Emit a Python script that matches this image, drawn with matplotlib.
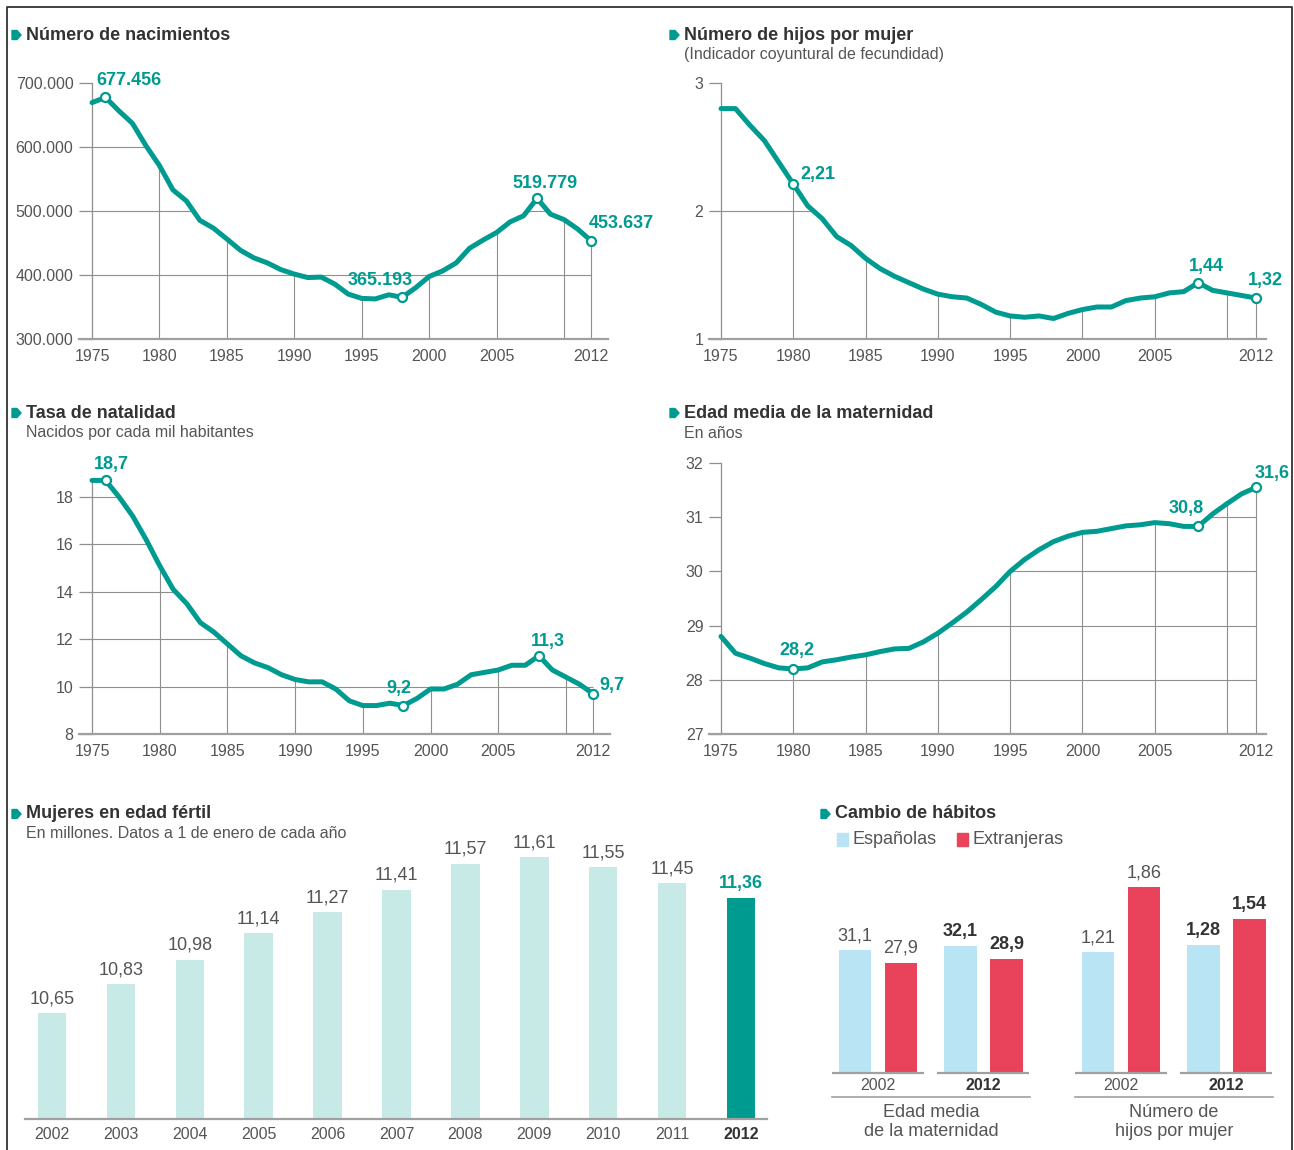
import matplotlib.pyplot as plt
import numpy as np
from matplotlib.path import Path
from matplotlib.patches import Polygon, Rectangle

W, H = 1294, 1150
plt.rcParams['font.family'] = ['Liberation Sans', 'DejaVu Sans']

TEAL = '#009b90'
LIGHT = '#c8eae6'
BLUE = '#b8e4f3'
RED = '#e8435a'
GRID = '#8f8f8f'
AXIS = '#a0a0a0'
TXT = '#555555'
DARK = '#333333'

# ---- data -------------------------------------------------------------
years = np.arange(1975, 2013)

nacimientos = [669378, 677456, 656357, 636892, 601992, 571018, 533008, 515706, 485352, 473281,
               456298, 438750, 426782, 418919, 408434, 401425, 395989, 396747, 385786, 370148,
               363469, 362626, 369035, 365193, 380130, 397632, 406380, 418846, 441881, 454591,
               466371, 482957, 492527, 519779, 494997, 486575, 471999, 453637]
hijos = [2.80, 2.80, 2.67, 2.55, 2.38, 2.21, 2.04, 1.94, 1.80, 1.73,
         1.63, 1.55, 1.49, 1.44, 1.39, 1.35, 1.33, 1.32, 1.27, 1.21,
         1.18, 1.17, 1.18, 1.16, 1.20, 1.23, 1.25, 1.25, 1.30, 1.32,
         1.33, 1.36, 1.37, 1.44, 1.38, 1.36, 1.34, 1.32]
tasa = [18.7, 18.7, 18.0, 17.2, 16.2, 15.1, 14.1, 13.5, 12.7, 12.3,
        11.8, 11.3, 11.0, 10.8, 10.5, 10.3, 10.2, 10.2, 9.9, 9.4,
        9.2, 9.2, 9.3, 9.2, 9.5, 9.9, 9.9, 10.1, 10.5, 10.6,
        10.7, 10.9, 10.9, 11.3, 10.7, 10.4, 10.1, 9.7]
edad = [28.80, 28.49, 28.40, 28.30, 28.22, 28.20, 28.22, 28.33, 28.37, 28.42,
        28.46, 28.52, 28.57, 28.58, 28.70, 28.86, 29.05, 29.25, 29.48, 29.72,
        30.00, 30.22, 30.40, 30.55, 30.65, 30.72, 30.74, 30.79, 30.84, 30.86,
        30.90, 30.88, 30.83, 30.83, 31.06, 31.25, 31.43, 31.55]

xticks = [1975, 1980, 1985, 1990, 1995, 2000, 2005, 2012]
vgrid = [1980, 1985, 1990, 1995, 2000, 2005, 2010, 2012]

nac_yticks = [300000, 400000, 500000, 600000, 700000]
nac_ylabels = ['300.000', '400.000', '500.000', '600.000', '700.000']
nac_marks = [1976, 1998, 2008, 2012]
nac_labels = ['677.456', '365.193', '519.779', '453.637']

hij_yticks = [1, 2, 3]
hij_ylabels = ['1', '2', '3']
hij_marks = [1980, 2008, 2012]
hij_labels = ['2,21', '1,44', '1,32']

tasa_yticks = [8, 10, 12, 14, 16, 18]
tasa_ylabels = ['8', '10', '12', '14', '16', '18']
tasa_marks = [1976, 1998, 2008, 2012]
tasa_labels = ['18,7', '9,2', '11,3', '9,7']

edad_yticks = [27, 28, 29, 30, 31, 32]
edad_ylabels = ['27', '28', '29', '30', '31', '32']
edad_marks = [1980, 2008, 2012]
edad_labels = ['28,2', '30,8', '31,6']

mujeres_years = ['2002', '2003', '2004', '2005', '2006', '2007', '2008', '2009', '2010', '2011', '2012']
mujeres = [10.65, 10.83, 10.98, 11.14, 11.27, 11.41, 11.57, 11.61, 11.55, 11.45, 11.36]
mujeres_labels = ['10,65', '10,83', '10,98', '11,14', '11,27', '11,41', '11,57', '11,61', '11,55', '11,45', '11,36']

habitos_years = ['2002', '2012']
edad_esp = [31.1, 32.1]
edad_ext = [27.9, 28.9]
hijos_esp = [1.21, 1.28]
hijos_ext = [1.86, 1.54]
edad_esp_lab = ['31,1', '32,1']
edad_ext_lab = ['27,9', '28,9']
hijos_esp_lab = ['1,21', '1,28']
hijos_ext_lab = ['1,86', '1,54']

# ---- figure -----------------------------------------------------------
fig = plt.figure(figsize=(W / 100, H / 100), dpi=100)
bg = fig.add_axes([0, 0, 1, 1])
bg.set_xlim(0, W)
bg.set_ylim(H, 0)
bg.axis('off')

PT = 0.72  # points per pixel


def px_axes(l, t, r, b):
    ax = fig.add_axes([l / W, 1 - b / H, (r - l) / W, (b - t) / H])
    ax.set_facecolor('none')
    return ax


def lim(p0, p1, pa, va, pb, vb):
    s = (vb - va) / (pb - pa)
    return va + (p0 - pa) * s, va + (p1 - pa) * s


def line_chart(rect, xmap, ymap, vals, yticks, ylabels, full, spine_top,
               marks, labels, offsets, ticklen):
    l, t, r, b = rect
    ax = px_axes(l, t, r, b)
    ax.set_xlim(*lim(l, r, *xmap))
    ax.set_ylim(*lim(b, t, *ymap))
    ymin = ax.get_ylim()[0]
    vals = np.asarray(vals, float)

    # grid lines only show in the area under the curve
    eps = 0.3
    xs = np.r_[years[0] - eps, years, years[-1] + eps, years[-1] + eps, years[0] - eps]
    ys = np.r_[vals[0], vals, vals[-1], ymin, ymin]
    clip = Path(np.column_stack([xs, ys]))
    for y in yticks[1:]:
        ln = ax.hlines(y, years[0], years[-1], color=GRID, lw=0.8, zorder=1)
        if y not in full:
            ln.set_clip_path(clip, ax.transData)
    for x in vgrid:
        ln = ax.vlines(x, ymin, ax.get_ylim()[1], color=GRID, lw=0.8, zorder=1)
        ln.set_clip_path(clip, ax.transData)

    for s in ['top', 'right']:
        ax.spines[s].set_visible(False)
    ax.spines['left'].set_position(('data', years[0]))
    ax.spines['left'].set_bounds(ymin, spine_top)
    ax.spines['left'].set_color(GRID)
    ax.spines['left'].set_linewidth(0.9)
    ax.spines['bottom'].set_color(AXIS)
    ax.spines['bottom'].set_linewidth(1.6)

    ax.set_yticks(yticks, ylabels)
    ax.set_xticks(xticks, [str(x) for x in xticks])
    ax.tick_params(axis='y', length=ticklen * PT, width=0.9, color=GRID, pad=4,
                   labelsize=11.5, labelcolor=TXT)
    ax.tick_params(axis='x', length=0, pad=7, labelsize=11.5, labelcolor=TXT)

    ax.plot(years, vals, color=TEAL, lw=3.6, solid_joinstyle='round',
            solid_capstyle='round', zorder=3, clip_on=False)
    idx = [int(np.where(years == m)[0][0]) for m in marks]
    ax.plot(years[idx], vals[idx], 'o', ms=6.5, mfc='white', mec=TEAL, mew=1.6,
            zorder=4, clip_on=False)
    for i, lab, (dx, dy) in zip(idx, labels, offsets):
        ax.annotate(lab, (years[i], vals[i]), xytext=(dx * PT, dy * PT),
                    textcoords='offset points', ha='center', va='center',
                    color=TEAL, fontsize=13, fontweight='bold')
    return ax


line_chart((79, 70, 608, 339), (92, 1975, 591, 2012), (339, 300000, 83, 700000),
           nacimientos, nac_yticks, nac_ylabels, [400000], 700000,
           nac_marks, nac_labels, [(23, 17), (-22, 17), (8, 15), (30, 17)], 13)

line_chart((709, 70, 1266, 339), (721, 1975, 1256, 2012), (339, 1, 83, 3),
           hijos, hij_yticks, hij_ylabels, [], 3,
           hij_marks, hij_labels, [(25, 10), (8, 16), (9, 18)], 12)

line_chart((79, 470, 610, 734), (92, 1975, 593, 2012), (734, 8, 497, 18),
           tasa, tasa_yticks, tasa_ylabels, [10], tasa[0],
           tasa_marks, tasa_labels, [(6, 16), (-5, 17), (9, 14), (19, 8)], 13)

line_chart((709, 455, 1266, 734), (721, 1975, 1256, 2012), (734, 27, 463, 32),
           edad, edad_yticks, edad_ylabels, [28], 32,
           edad_marks, edad_labels, [(4, 18), (-12, 18), (16, 14)], 12)

# ---- bars: mujeres en edad fertil -------------------------------------
ax = px_axes(25, 850, 767.5, 1119)
pos = np.arange(len(mujeres))
ax.set_xlim(*lim(25, 767.5, 52, 0, 741, 10))
ax.set_ylim(*lim(1119, 850, 1119, 10, 857, 11.61))
cols = [LIGHT] * (len(mujeres) - 1) + [TEAL]
ax.bar(pos, mujeres, width=0.414, color=cols, zorder=2)
for i, (v, lab) in enumerate(zip(mujeres, mujeres_labels)):
    last = i == len(mujeres) - 1
    ax.annotate(lab, (pos[i], v), xytext=(0, 4), textcoords='offset points',
                ha='center', va='bottom', fontsize=13,
                color=TEAL if last else TXT, fontweight='bold' if last else 'normal')
for s in ['top', 'right', 'left']:
    ax.spines[s].set_visible(False)
ax.spines['bottom'].set_color(AXIS)
ax.spines['bottom'].set_linewidth(1.6)
ax.set_yticks([])
ax.set_xticks(pos, mujeres_years)
ax.tick_params(axis='x', length=0, pad=6, labelsize=11.5, labelcolor=TXT)
ax.get_xticklabels()[-1].set_fontweight('bold')
ax.get_xticklabels()[-1].set_color(DARK)

# ---- bars: cambio de habitos ------------------------------------------
def pair_chart(left, scale, esp, ext, esp_lab, ext_lab):
    ax = px_axes(left, 860, left + 198, 1073)
    ax.set_xlim(-0.436, 1.441)
    ax.set_ylim(0, 213 / scale)
    g = np.arange(len(habitos_years))
    ax.bar(g - 0.218, esp, width=0.308, color=BLUE)
    ax.bar(g + 0.218, ext, width=0.308, color=RED)
    for c in g:
        ax.hlines(0, c - 0.436, c + 0.436, color=AXIS, lw=1.6, clip_on=False)
        bold = c == len(g) - 1
        for x, v, lab in [(c - 0.218, esp[c], esp_lab[c]), (c + 0.218, ext[c], ext_lab[c])]:
            ax.annotate(lab, (x, v), xytext=(0, 4), textcoords='offset points',
                        ha='center', va='bottom', fontsize=13,
                        color=DARK if bold else TXT,
                        fontweight='bold' if bold else 'normal')
    ax.axis('off')
    for c, yl in zip(g, habitos_years):
        bold = c == len(g) - 1
        ax.annotate(yl, (c, 0), xytext=(0, -12 * PT), textcoords='offset points',
                    ha='center', va='center', fontsize=11.5,
                    color=DARK if bold else TXT, fontweight='bold' if bold else 'normal')
    return ax


pair_chart(832, 3.96, edad_esp, edad_ext, edad_esp_lab, edad_ext_lab)
pair_chart(1075, 100, hijos_esp, hijos_ext, hijos_esp_lab, hijos_ext_lab)

for x0, x1, lab in [(832, 1030, 'Edad media\nde la maternidad'),
                    (1075, 1273, 'Número de\nhijos por mujer')]:
    bg.plot([x0, x1], [1097, 1097], color=AXIS, lw=1.2)
    bg.text((x0 + x1) / 2, 1122, lab, ha='center', va='center', fontsize=13,
            color=TXT, linespacing=1.1)

# legend
for x, c, lab in [(837, BLUE, 'Españolas'), (957, RED, 'Extranjeras')]:
    bg.add_patch(Rectangle((x, 833), 11, 13, color=c))
    bg.text(x + 16, 840, lab, ha='left', va='center', fontsize=13, color=TXT)

# ---- titles -----------------------------------------------------------
titles = [(12, 35, 'Número de nacimientos', None),
          (670, 35, 'Número de hijos por mujer', '(Indicador coyuntural de fecundidad)'),
          (12, 413, 'Tasa de natalidad', 'Nacidos por cada mil habitantes'),
          (670, 413, 'Edad media de la maternidad', 'En años'),
          (12, 814, 'Mujeres en edad fértil', 'En millones. Datos a 1 de enero de cada año'),
          (821, 814, 'Cambio de hábitos', None)]
for x, y, t, sub in titles:
    bg.add_patch(Polygon([(x, y - 4.5), (x + 5, y - 4.5), (x + 9, y), (x + 5, y + 4.5), (x, y + 4.5)],
                         closed=True, color=TEAL))
    bg.text(x + 14, y, t, ha='left', va='center', fontsize=13, fontweight='bold', color=DARK)
    if sub:
        bg.text(x + 14, y + 20, sub, ha='left', va='center', fontsize=11.5, color=TXT)

# frame
bg.plot([7, 7, 1292, 1292], [H, 7, 7, H], color='#333333', lw=1.3)

fig.savefig('out.png', dpi=100)
